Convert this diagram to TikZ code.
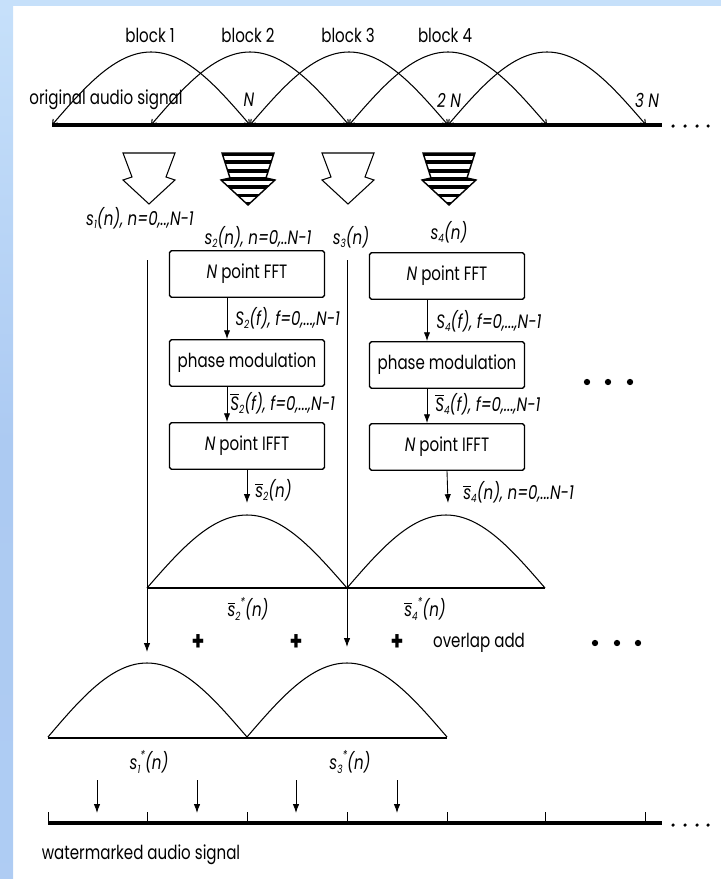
\documentclass[tikz,border=0pt]{standalone}
\usepackage{fontspec}
\setmainfont{Poppins}[FakeStretch=0.78]
\usetikzlibrary{arrows.meta}
\definecolor{SlideBlue}{RGB}{198,224,250}
\definecolor{SlideBlueDeep}{RGB}{172,202,242}
\newcommand{\lblfont}{\fontsize{11}{13}\selectfont}
\newcommand{\barred}[1]{\ensuremath{\overline{\mbox{#1}}}}
\newcommand{\sub}[1]{\raisebox{-0.35ex}{\fontsize{6.5}{7}\selectfont #1}}
\newcommand{\subsup}[2]{\sub{#1}\raisebox{0.9ex}{\fontsize{7}{7}\selectfont #2}}

\begin{document}
\begin{tikzpicture}[x=0.02cm, y=-0.02cm,
    lbl/.style={inner sep=0pt, font=\lblfont},
    mlbl/.style={inner sep=0pt, font=\lblfont\itshape},
    plus/.style={inner sep=0pt, font=\fontsize{15}{15}\selectfont\bfseries},
    box/.style={draw, line width=0.8pt, rounded corners=1pt, minimum width=3.1cm, minimum height=0.93cm, inner sep=0pt, font=\lblfont},
    arr/.style={-{Latex[length=5pt,width=3.6pt]}, line width=0.5pt},
    wave/.style={line width=0.6pt},
    barbs/.style={{Straight Barb[length=2.5pt,width=3.5pt]}-{Straight Barb[length=2.5pt,width=3.5pt]}},
    axis/.style={line width=2.2pt}
]
\useasboundingbox (0,0) rectangle (721,879);
% slide background
\fill[SlideBlue] (0,0) rectangle (721,6);
\shade[top color=SlideBlue, bottom color=SlideBlueDeep!90!SlideBlue, middle color=SlideBlueDeep] (0,6) rectangle (13,879);

% original signal and its blocks
\foreach \a in {52,151,250,349,448}
  \draw[wave, barbs] (\a,125) sin (\a+99,52) cos (\a+198,125);
\draw[axis] (52,125) -- (662,125);
\foreach \x in {673,685,697,708} \fill (\x,126) circle (1pt);
\node[lbl] (blk1) at (150,35) {block 1};
\node[lbl] (blk2) at (248,35) {block 2};
\node[lbl] (blk3) at (348,35) {block 3};
\node[lbl] (blk4) at (445,35) {block 4};
\node[lbl] (orig) at (106,100) {original audio signal};
\node[mlbl] (n1) at (249,100) {N};
\node[mlbl] (n2) at (449,100) {2 N};
\node[mlbl] (n3) at (647,100) {3 N};

% hollow and striped block arrows
\foreach \x in {149,348}
  \draw[line width=0.6pt] (\x-26,153) -- (\x+26,153) -- (\x+17,177) -- (\x+26,180) -- (\x,204)
    -- (\x-26,180) -- (\x-17,177) -- cycle;
\foreach \x in {248,449}{
  \begin{scope}
    \clip (\x-26,153) -- (\x+26,153) -- (\x+18,178) -- (\x+27,180) -- (\x,205) -- (\x-27,180) -- (\x-18,178) -- cycle;
    \foreach \k in {0,...,6}
      \draw[line width=2.2pt] (\x-30,154+\k*8.3) -- (\x+30,154+\k*8.3);
  \end{scope}
  \draw[line width=0.8pt] (\x-26,153) -- (\x+26,153) -- (\x+18,178) -- (\x+27,180) -- (\x,205)
    -- (\x-27,180) -- (\x-18,178) -- cycle;
}
\node[mlbl] (s1) at (140,218) {s\sub{1}(n), n=0,..,N-1};
\node[mlbl] (s2) at (258,237) {s\sub{2}(n), n=0,..N-1};
\node[mlbl] (s3) at (351,237) {s\sub{3}(n)};
\node[mlbl] (s4) at (449,232) {s\sub{4}(n)};

% processing chains
\node[box] (fft2) at (247,274) {\textit{N} point FFT};
\node[box] (ph2) at (247,363) {phase modulation};
\node[box] (ifft2) at (247,446) {\textit{N} point IFFT};
\node[box] (fft4) at (447,276) {\textit{N} point FFT};
\node[box] (ph4) at (447,365) {phase modulation};
\node[box] (ifft4) at (447,447) {\textit{N} point IFFT};
\draw[arr] ([xshift=-0.4cm]fft2.south) -- ([xshift=-0.4cm]ph2.north);
\draw[arr] ([xshift=-0.4cm]ph2.south) -- ([xshift=-0.4cm]ifft2.north);
\draw[arr] ([xshift=-0.4cm]fft4.south) -- ([xshift=-0.4cm]ph4.north);
\draw[arr] ([xshift=-0.4cm]ph4.south) -- ([xshift=-0.4cm]ifft4.north);
\node[mlbl, anchor=west] (sf2) at (235,318) {S\sub{2}(f), f=0,...,N-1};
\node[mlbl, anchor=west] (sf4) at (436,321) {S\sub{4}(f), f=0,...,N-1};
\node[mlbl, anchor=west] (sbf2) at (230,403) {\barred{S}\sub{2}(f), f=0,...,N-1};
\node[mlbl, anchor=west] (sbf4) at (435,404) {\barred{S}\sub{4}(f), f=0,...,N-1};
\coordinate (o2) at (247,503);
\coordinate (o4) at (448,503);
\draw[arr] (ifft2.south) -- (o2);
\draw[arr] (ifft4.south) -- (o4);
\node[mlbl, anchor=west] (sb2) at (255,490) {\barred{s}\sub{2}(n)};
\node[mlbl, anchor=west] (sb4) at (463,492) {\barred{s}\sub{4}(n), n=0,...N-1};
\foreach \x in {587,608,630} \fill (\x,382) circle (1.8pt);

% pass-through of odd blocks
\coordinate (p1a) at (147,260);
\coordinate (p1b) at (147,652);
\coordinate (p3a) at (347,260);
\coordinate (p3b) at (347,647);
\draw[arr] (p1a) -- (p1b);
\draw[arr] (p3a) -- (p3b);

% windowed even blocks
\draw[wave] (147,588) sin (247,515) cos (347,588) sin (446,515) cos (545,588);
\draw[line width=1.2pt] (147,588) -- (545,588);
\node[mlbl] (sw2) at (248,609) {\barred{s}\subsup{2}{*}(n)};
\node[mlbl] (sw4) at (425,609) {\barred{s}\subsup{4}{*}(n)};

% overlap add
\node[plus] (plus1) at (198,643) {+};
\node[plus] (plus2) at (296,643) {+};
\node[plus] (plus3) at (397,643) {+};
\node[lbl] (ola) at (479,643) {overlap add};
\foreach \x in {595,617,638} \fill (\x,643) circle (1.8pt);

% windowed odd blocks
\draw[wave] (48,737) sin (147,663) cos (247,737) sin (347,663) cos (447,737);
\draw[line width=1.2pt] (48,738) -- (447,738);
\node[mlbl] (sw1) at (149,762) {s\subsup{1}{*}(n)};
\node[mlbl] (sw3) at (350,762) {s\subsup{3}{*}(n)};

% watermarked signal
\foreach \x in {97,197,296,397}{
  \coordinate (wa\x) at (\x,780);
  \coordinate (wb\x) at (\x,813);
  \draw[arr] (wa\x) -- (wb\x);
}
\draw[axis] (48,823) -- (662,823);
\foreach \x in {48,147,247,347,447,545,645} \draw[line width=0.5pt] (\x,812) -- (\x,823);
\foreach \x in {673,685,697,708} \fill (\x,825) circle (1pt);
\node[lbl] (wm) at (141,855) {watermarked audio signal};
\end{tikzpicture}
\end{document}
